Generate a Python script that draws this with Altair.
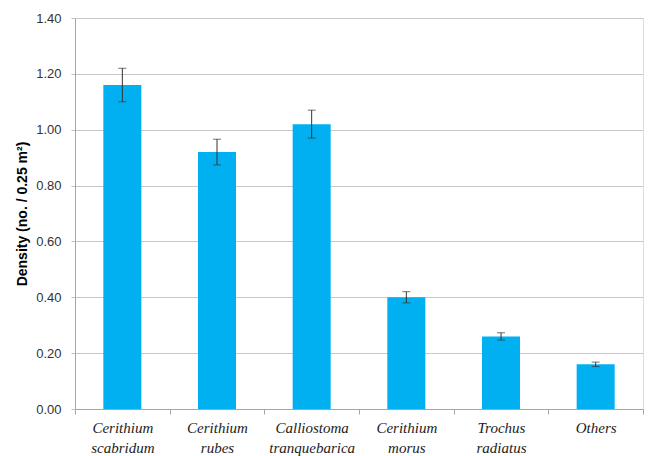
import altair as alt
import pandas as pd

# Gastropod species and their mean density with standard error
species = [
    "Cerithium scabridum",
    "Cerithium rubes",
    "Calliostoma tranquebarica",
    "Cerithium morus",
    "Trochus radiatus",
    "Others",
]
density = [1.16, 0.92, 1.02, 0.40, 0.26, 0.16]
std_err = [0.06, 0.046, 0.05, 0.02, 0.013, 0.008]

df = pd.DataFrame({"species": species, "density": density, "se": std_err})
df["lo"] = df["density"] - df["se"]
df["hi"] = df["density"] + df["se"]

x_enc = alt.X(
    "species:N",
    sort=species,
    scale=alt.Scale(paddingInner=0, paddingOuter=0),
    axis=alt.Axis(
        title=None,
        labelAngle=0,
        labelExpr="split(datum.label, ' ')",
        labelFont="Liberation Serif",
        labelFontStyle="italic",
        labelFontSize=15,
        labelLineHeight=20,
        labelColor="#222222",
        labelPadding=6,
        tickBand="extent",
        tickSize=5,
        tickColor="#A6A6A6",
        domainColor="#A6A6A6",
        grid=False,
    ),
)

y_scale = alt.Scale(domain=[0, 1.4], nice=False)
y_axis = alt.Axis(
    title="Density (no. / 0.25 m²)",
    titleFont="Liberation Sans",
    titleFontSize=14,
    titleFontWeight="bold",
    titleColor="#000000",
    titlePadding=6,
    values=[0, 0.2, 0.4, 0.6, 0.8, 1.0, 1.2, 1.4],
    format=".2f",
    labelFont="Liberation Sans",
    labelFontSize=13,
    labelColor="#333333",
    labelPadding=10,
    tickSize=4,
    tickColor="#BFBFBF",
    domainColor="#A6A6A6",
    gridColor="#C8C8C8",
    gridWidth=1,
)

bars = alt.Chart(df).mark_bar(color="#00B0F0", size=38).encode(
    x=x_enc,
    y=alt.Y("density:Q", scale=y_scale, axis=y_axis),
)

whisker = alt.Chart(df).mark_rule(color="#333333", strokeWidth=1).encode(
    x=alt.X("species:N", sort=species),
    y=alt.Y("lo:Q", scale=y_scale),
    y2="hi:Q",
)

cap_hi = alt.Chart(df).mark_tick(color="#333333", thickness=1, size=8, orient="horizontal").encode(
    x=alt.X("species:N", sort=species),
    y=alt.Y("hi:Q", scale=y_scale),
)

cap_lo = alt.Chart(df).mark_tick(color="#333333", thickness=1, size=8, orient="horizontal").encode(
    x=alt.X("species:N", sort=species),
    y=alt.Y("lo:Q", scale=y_scale),
)

chart = (
    alt.layer(bars, whisker, cap_hi, cap_lo)
    .properties(
        width=568,
        height=391,
        autosize=alt.AutoSizeParams(type="none"),
        padding={"left": 75, "top": 18, "right": 6, "bottom": 47},
    )
    .configure_view(stroke=None)
    .configure(background="white")
)

chart.save("out.html", embed_options={"renderer": "svg", "actions": False})
